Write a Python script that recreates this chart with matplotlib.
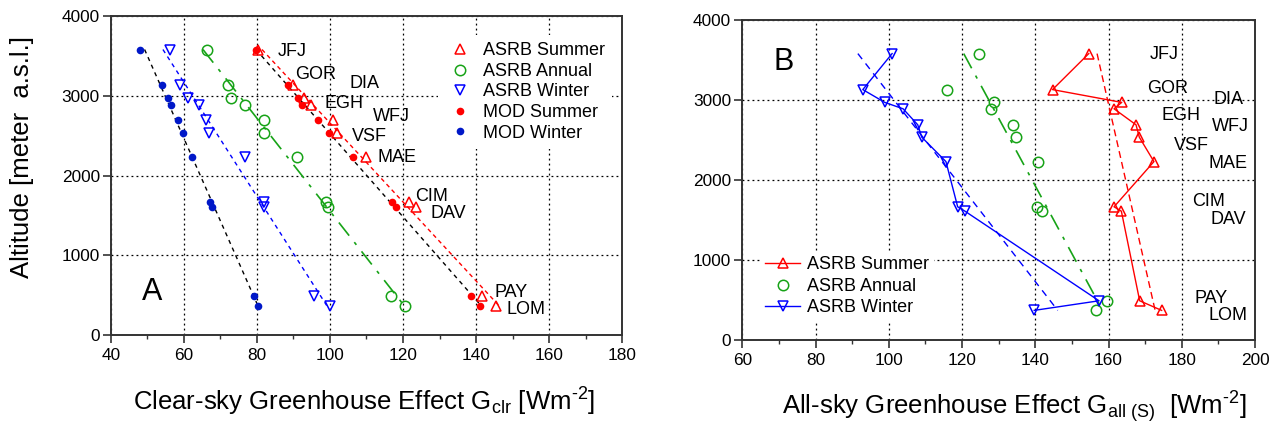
import numpy as np
import matplotlib
matplotlib.use("Agg")
import matplotlib.pyplot as plt
from matplotlib.lines import Line2D
from matplotlib.ticker import MultipleLocator

plt.rcParams['font.family'] = ['Liberation Sans', 'DejaVu Sans']
plt.rcParams['mathtext.fontset'] = 'custom'
plt.rcParams['mathtext.rm'] = 'Liberation Sans'
plt.rcParams['mathtext.it'] = 'Liberation Sans:italic'

# ---- data ----
stations = ['JFJ', 'GOR', 'DIA', 'EGH', 'WFJ', 'VSF', 'MAE', 'CIM', 'DAV', 'PAY', 'LOM']
altitude = [3580, 3130, 2970, 2890, 2690, 2535, 2230, 1665, 1610, 490, 370]

# panel A: clear-sky greenhouse effect
asrb_summer_clr = [80.2, 89.9, 92.9, 94.9, 100.7, 101.8, 109.8, 121.7, 123.5, 141.7, 145.6]
asrb_annual_clr = [66.2, 72.0, 72.9, 76.8, 82.0, 82.0, 90.9, 98.8, 99.5, 116.7, 120.6]
asrb_winter_clr = [56.1, 59.0, 61.1, 64.0, 66.1, 66.8, 76.8, 81.8, 82.0, 95.6, 100.0]
mod_summer_clr = [79.7, 88.4, 91.1, 92.4, 96.8, 99.8, 106.2, 117.0, 118.1, 138.6, 141.1]
mod_winter_clr = [47.9, 54.0, 55.6, 56.4, 58.4, 59.6, 62.2, 67.1, 67.7, 79.1, 80.4]

# panel B: all-sky greenhouse effect
asrb_summer_all = [154.6, 144.7, 163.6, 161.5, 167.5, 168.4, 172.4, 161.5, 163.5, 168.5, 174.5]
asrb_annual_all = [124.6, 115.8, 128.8, 127.8, 133.8, 134.6, 140.8, 140.6, 141.7, 159.6, 156.7]
asrb_winter_all = [100.9, 92.9, 98.9, 103.9, 107.9, 109.0, 115.6, 118.8, 120.8, 157.4, 139.7]

# station label placement (left edge, vertical centre)
lab_a_x = [85.6, 90.4, 105.4, 98.4, 111.8, 106.1, 112.9, 123.4, 127.5, 145.2, 148.4]
lab_a_y = [3555, 3271, 3158, 2907, 2740, 2489, 2229, 1735, 1527, 536, 326]
lab_b_x = [171.2, 170.4, 188.6, 174.5, 188.1, 177.8, 187.2, 182.7, 187.8, 183.6, 187.2]
lab_b_y = [3563, 3146, 3000, 2812, 2667, 2425, 2208, 1729, 1500, 521, 312]

RED = '#ff0000'
GREEN = '#17a317'
BLUE = '#0000ff'
NAVY = '#0018c8'

z = np.array(altitude, dtype=float)
zline = np.array([z.max(), z.min()])


def fit_line(ax, xvals, **kw):
    b, a = np.polyfit(z, np.array(xvals), 1)
    ax.plot(a + b * zline, zline, **kw)


def style_axes(ax, xlim, xticks):
    ax.set_xlim(*xlim)
    ax.set_ylim(0, 4000)
    ax.set_xticks(xticks)
    ax.xaxis.set_minor_locator(MultipleLocator(10))
    ax.set_yticks([0, 1000, 2000, 3000, 4000])
    ax.grid(True, which='major', color='black', linestyle=(0, (1.5, 2.5)), linewidth=0.9)
    ax.set_axisbelow(True)
    for s in ax.spines.values():
        s.set_linewidth(1.4)
        s.set_color('#333333')
    ax.tick_params(axis='both', which='major', direction='out', length=5.5,
                   width=1.2, labelsize=12.4, color='#333333')
    ax.tick_params(axis='x', which='minor', direction='out', length=3, width=1.0,
                   color='#333333')
    ax.tick_params(axis='x', pad=4)
    ax.tick_params(axis='y', pad=2.5)


fig = plt.figure(figsize=(12.77, 4.32), dpi=100)
axA = fig.add_axes([0.0869, 0.2245, 0.4002, 0.7384])
axB = fig.add_axes([0.5813, 0.2130, 0.4015, 0.7407])

# ---------------- panel A ----------------
style_axes(axA, (40, 180), np.arange(40, 181, 20))
fit_line(axA, mod_winter_clr, color='black', lw=1, linestyle=(0, (3, 3)))
fit_line(axA, mod_summer_clr, color='black', lw=1, linestyle=(0, (3, 3)))
fit_line(axA, asrb_winter_clr, color=BLUE, lw=1, linestyle=(0, (3, 3)))
fit_line(axA, asrb_annual_clr, color=GREEN, lw=1.2, linestyle=(0, (10, 5, 2, 5)))
fit_line(axA, asrb_summer_clr, color=RED, lw=1, linestyle=(0, (3, 2.5)))

mk_open = dict(linestyle='none', markersize=7.5, markerfacecolor='none', markeredgewidth=1.1)
mk_dot = dict(linestyle='none', markersize=5.5, markeredgewidth=0)
axA.plot(asrb_summer_clr, altitude, marker='^', color=RED, **mk_open)
axA.plot(asrb_annual_clr, altitude, marker='o', color=GREEN, **mk_open)
axA.plot(asrb_winter_clr, altitude, marker='v', color=BLUE, **mk_open)
axA.plot(mod_summer_clr, altitude, marker='o', color=RED, **mk_dot)
axA.plot(mod_winter_clr, altitude, marker='o', color=NAVY, **mk_dot)

for name, x, y in zip(stations, lab_a_x, lab_a_y):
    axA.text(x, y, name, fontsize=13, ha='left', va='center')
axA.text(48.4, 543, 'A', fontsize=22, ha='left', va='center')

hA = [Line2D([], [], marker='^', color=RED, **mk_open),
      Line2D([], [], marker='o', color=GREEN, **mk_open),
      Line2D([], [], marker='v', color=BLUE, **mk_open),
      Line2D([], [], marker='o', color=RED, **mk_dot),
      Line2D([], [], marker='o', color=NAVY, **mk_dot)]
legA = axA.legend(hA, ['ASRB Summer', 'ASRB Annual', 'ASRB Winter', 'MOD Summer', 'MOD Winter'],
                  loc='upper left', bbox_to_anchor=(438 / 1277, 1 - 35 / 432),
                  bbox_transform=fig.transFigure, fontsize=13, frameon=True,
                  fancybox=False, edgecolor='none', facecolor='white', framealpha=1,
                  borderpad=0.4, borderaxespad=0, handlelength=1.6, handletextpad=0.5,
                  labelspacing=0.2, numpoints=1)

# ---------------- panel B ----------------
style_axes(axB, (60, 200), np.arange(60, 201, 20))
fit_line(axB, asrb_winter_all, color=BLUE, lw=1, linestyle=(0, (5, 4)))
fit_line(axB, asrb_annual_all, color=GREEN, lw=1.2, linestyle=(0, (10, 5, 2, 5)))
fit_line(axB, asrb_summer_all, color=RED, lw=1, linestyle=(0, (5, 3)))

line_mk = dict(lw=1, markersize=7.5, markerfacecolor='none', markeredgewidth=1.1)
axB.plot(asrb_summer_all, altitude, marker='^', color=RED, linestyle='-', **line_mk)
axB.plot(asrb_annual_all, altitude, marker='o', color=GREEN, **mk_open)
axB.plot(asrb_winter_all, altitude, marker='v', color=BLUE, linestyle='-', **line_mk)

for name, x, y in zip(stations, lab_b_x, lab_b_y):
    axB.text(x, y, name, fontsize=13, ha='left', va='center')
axB.text(68.5, 3479, 'B', fontsize=22, ha='left', va='center')

hB = [Line2D([], [], marker='^', color=RED, **line_mk),
      Line2D([], [], marker='o', color=GREEN, **mk_open),
      Line2D([], [], marker='v', color=BLUE, **line_mk)]
legB = axB.legend(hB, ['ASRB Summer', 'ASRB Annual', 'ASRB Winter'],
                  loc='upper left', bbox_to_anchor=(760 / 1277, 1 - 251 / 432),
                  bbox_transform=fig.transFigure, fontsize=13, frameon=True,
                  fancybox=False, edgecolor='none', facecolor='white', framealpha=1,
                  borderpad=0.3, borderaxespad=0, handlelength=1.9, handletextpad=0.4,
                  labelspacing=0.25, numpoints=1)

# ---------------- axis titles ----------------
fig.text(133 / 1277, 1 - 410.7 / 432,
         r'Clear-sky Greenhouse Effect G$_{\rm clr}$ [Wm$^{\text{-2}}$]',
         fontsize=18.5, ha='left', va='baseline')
fig.text(1246 / 1277, 1 - 414 / 432,
         r'All-sky Greenhouse Effect G$_{\rm all\ (S)}$  [Wm$^{\text{-2}}$]',
         fontsize=18.5, ha='right', va='baseline')
fig.text(22 / 1277, 1 - 157 / 432, 'Altitude [meter  a.s.l.]', fontsize=18.5,
         rotation=90, ha='center', va='center')

fig.savefig('out.png', dpi=100)
